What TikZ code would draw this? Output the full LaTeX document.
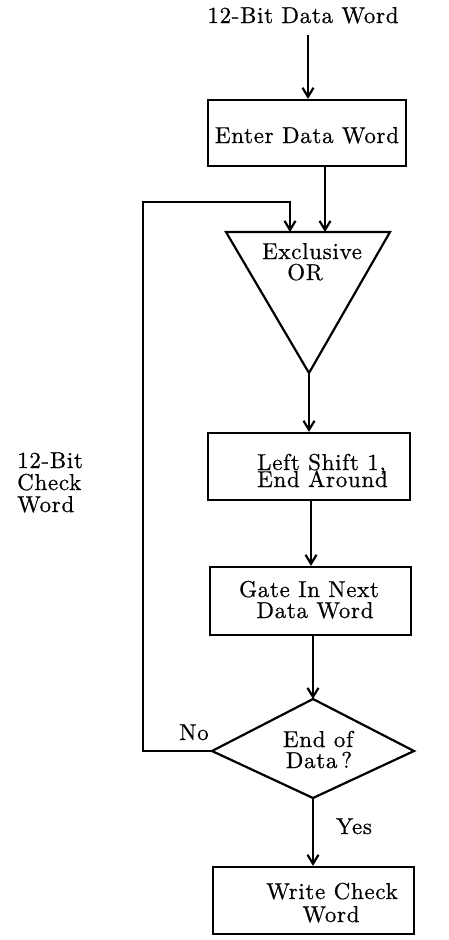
\documentclass[tikz,border=0pt]{standalone}
\usepackage{fontspec}
\setmainfont{lmroman10-regular.otf}[LetterSpace=3,FakeBold=0.6]
\usetikzlibrary{arrows.meta}
\tikzset{
  box/.style={draw, line width=2.2pt, inner sep=0pt},
  txt/.style={inner sep=0pt, align=center, font=\fontsize{23}{23}\selectfont},
  ln/.style={line width=2.2pt},
  arr/.style={ln, -{Straight Barb[length=9pt,width=11pt,line width=2.2pt]}}
}
\begin{document}
\begin{tikzpicture}[x=1pt,y=-1pt]
\useasboundingbox (0,0) rectangle (449,940);
% title
\node[txt, anchor=base] (title) at (303,23) {12-Bit Data Word};
% enter data word
\node[box, minimum width=198pt, minimum height=66pt] (b1) at (307,133) {};
\node[txt, anchor=base] (t1) at (307,143) {Enter Data Word};
% triangle
\coordinate (trl) at (226,232);
\coordinate (trr) at (390,232);
\coordinate (tra) at (309,373);
\draw[ln, line join=miter] (trl) -- (trr) -- (tra) -- cycle;
\node[txt, anchor=base] (t2a) at (312,259) {Exclusive};
\node[txt, anchor=base] (t2b) at (305,280) {OR};
\coordinate (in1) at (325,232);
\coordinate (in2) at (290,232);
% left shift
\node[box, minimum width=202pt, minimum height=67pt] (b2) at (309,466.5) {};
\node[txt, anchor=base west] (t3a) at (257,470) {Left Shift 1,};
\node[txt, anchor=base west] (t3b) at (257,487) {End Around};
% gate in
\node[box, minimum width=201pt, minimum height=68pt] (b3) at (310.5,601) {};
\node[txt, anchor=base] (t4a) at (309,597) {Gate In Next};
\node[txt, anchor=base] (t4b) at (315,618) {Data Word};
% diamond
\coordinate (dt) at (313,699);
\coordinate (dl) at (212,751);
\coordinate (dr) at (414,751);
\coordinate (db) at (313,798);
\draw[ln, line join=miter] (dt) -- (dr) -- (db) -- (dl) -- cycle;
\node[txt, anchor=base] (t5a) at (318,747) {End of};
\node[txt, anchor=base] (t5b) at (319,768) {Data\,?};
% write check word
\node[box, minimum width=201pt, minimum height=67pt] (b4) at (313.5,900.5) {};
\node[txt, anchor=base] (t6a) at (332,899) {Write Check};
\node[txt, anchor=base] (t6b) at (331,922) {Word};
% labels
\node[txt, anchor=base] (no) at (194,740) {No};
\node[txt, anchor=base] (yes) at (354,834) {Yes};
\node[txt, anchor=base west, align=left] (cw1) at (17,468) {12-Bit};
\node[txt, anchor=base west, align=left] (cw2) at (17,490) {Check};
\node[txt, anchor=base west, align=left] (cw3) at (17,512) {Word};
% connectors
\coordinate (s0) at (308,35);
\draw[arr] (s0) -- (b1.north -| s0);
\draw[arr] (b1.south -| in1) -- (in1);
\draw[arr] (tra) -- (b2.north -| tra);
\draw[arr] (b2.south -| 311,0) -- (b3.north -| 311,0);
\draw[arr] (b3.south -| dt) -- (dt);
\draw[arr] (db) -- (b4.north -| db);
\coordinate (lb) at (143,751);
\coordinate (lt) at (143,202);
\draw[arr, line join=miter] (dl) -- (lb) -- (lt) -- (lt -| in2) -- (in2);
\end{tikzpicture}
\end{document}
